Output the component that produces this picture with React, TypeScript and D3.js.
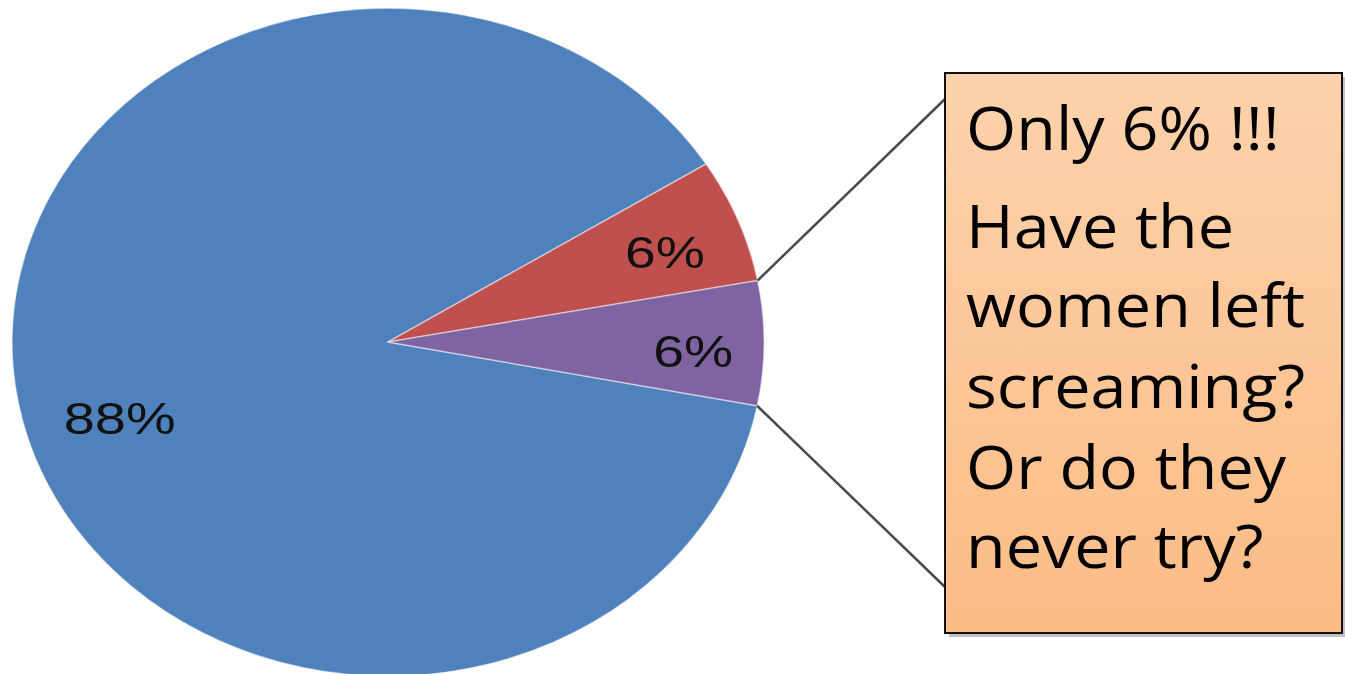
import { useEffect, useRef } from 'react'
import * as d3 from 'd3'

const categories = ['Other', 'Group A', 'Group B']
const values = [88, 6, 6]
const labels = ['88%', '6%', '6%']
const colors = ['#4F81BD', '#C0504D', '#8064A2']
const calloutLines = ['Only 6% !!!', 'Have the', 'women left', 'screaming?', 'Or do they', 'never try?']

const W = 1345
const H = 674

export default function App() {
  const svgRef = useRef<SVGSVGElement>(null)

  useEffect(() => {
    if (!svgRef.current) return
    const svg = d3.select(svgRef.current)
    svg.selectAll('*').remove()

    const cx = 388
    const cy = 342
    const rx = 376
    const ry = 334

    const startDeg = 101
    const pie = d3.pie<number>()
      .sort(null)
      .value(d => d)
      .startAngle((startDeg * Math.PI) / 180)
      .endAngle((startDeg * Math.PI) / 180 + Math.PI * 2)
    const arcs = pie(values)

    const arc = d3.arc<d3.PieArcDatum<number>>().innerRadius(0).outerRadius(1)
    const labelArc = d3.arc<d3.PieArcDatum<number>>().innerRadius(0.78).outerRadius(0.78)
    // excel's "best fit" puts the labels a bit off the centroid
    const nudge = [[20, 28], [4, 5], [12, 8]]

    const defs = svg.append('defs')
    const grad = defs.append('linearGradient')
      .attr('id', 'boxGrad')
      .attr('x1', 0).attr('y1', 0).attr('x2', 0).attr('y2', 1)
    grad.append('stop').attr('offset', '0%').attr('stop-color', '#FDD2AC')
    grad.append('stop').attr('offset', '100%').attr('stop-color', '#FBBC85')

    // pie, drawn on a unit circle then stretched to the ellipse
    const pieG = svg.append('g')
      .attr('transform', `translate(${cx},${cy}) scale(${rx},${ry})`)

    pieG.selectAll('path')
      .data(arcs)
      .enter().append('path')
      .attr('d', arc)
      .attr('fill', (_, i) => colors[i])
      .attr('stroke', 'rgba(255,255,255,0.45)')
      .attr('stroke-width', 1.5)
      .attr('vector-effect', 'non-scaling-stroke')
      .append('title').text((_, i) => categories[i])

    // slice labels
    svg.append('g')
      .selectAll('text')
      .data(arcs)
      .enter().append('text')
      .attr('x', (d, i) => cx + labelArc.centroid(d)[0] * rx + nudge[i][0])
      .attr('y', (d, i) => cy + labelArc.centroid(d)[1] * ry + nudge[i][1])
      .attr('dy', '0.36em')
      .attr('text-anchor', 'middle')
      .attr('font-family', 'Liberation Sans, Arial, sans-serif')
      .attr('font-size', 45)
      .attr('fill', '#111')
      .attr('textLength', (_, i) => (labels[i].length === 3 ? 112 : 80))
      .attr('lengthAdjust', 'spacingAndGlyphs')
      .text((_, i) => labels[i])

    // callout box
    const bx = 945
    const by = 73
    const bw = 397
    const bh = 560

    // leader lines from the purple slice edges to the box
    const target = arcs[2]
    const edge = (a: number) => [cx + Math.sin(a) * rx, cy - Math.cos(a) * ry]
    const p1 = edge(target.startAngle)
    const p2 = edge(target.endAngle)
    svg.append('line')
      .attr('x1', p1[0]).attr('y1', p1[1])
      .attr('x2', bx).attr('y2', by + 26)
      .attr('stroke', '#4a4a4a').attr('stroke-width', 2.5)
    svg.append('line')
      .attr('x1', p2[0]).attr('y1', p2[1])
      .attr('x2', bx).attr('y2', by + 514)
      .attr('stroke', '#4a4a4a').attr('stroke-width', 2.5)

    svg.append('rect')
      .attr('x', bx + 4).attr('y', by + 4)
      .attr('width', bw).attr('height', bh)
      .attr('fill', '#999')
      .attr('opacity', 0.6)

    svg.append('rect')
      .attr('x', bx).attr('y', by)
      .attr('width', bw).attr('height', bh)
      .attr('fill', 'url(#boxGrad)')
      .attr('stroke', '#111')
      .attr('stroke-width', 2)

    const lineY = [150, 248, 327, 408, 489, 568]
    const tx = bx + 21
    svg.append('g')
      .attr('transform', `translate(${tx},0) scale(1.06,1)`)
      .selectAll('text')
      .data(calloutLines)
      .enter().append('text')
      .attr('x', 0)
      .attr('y', (_, i) => lineY[i])
      .attr('font-family', 'Open Sans, sans-serif')
      .attr('font-size', 61)
      .attr('fill', '#000')
      .text(d => d)
  }, [])

  return (
    <div style={{ position: 'fixed', left: 0, top: 0, width: W, height: H, background: '#fff' }}>
      <svg ref={svgRef} width={W} height={H} />
    </div>
  )
}
